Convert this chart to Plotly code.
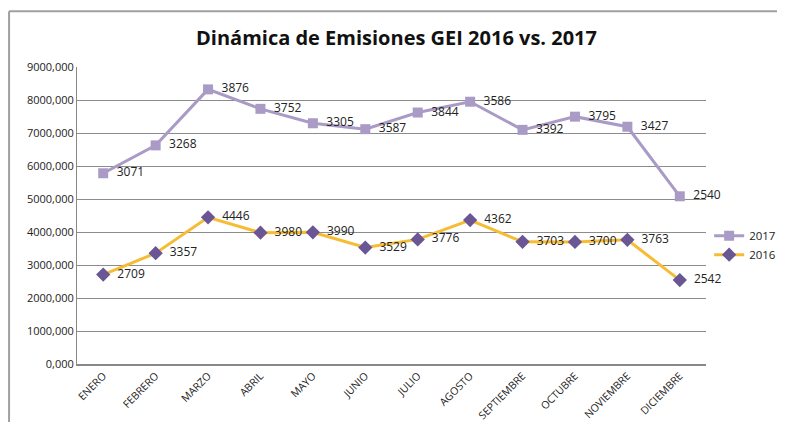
import plotly.graph_objects as go

meses = ["ENERO", "FEBRERO", "MARZO", "ABRIL", "MAYO", "JUNIO", "JULIO",
         "AGOSTO", "SEPTIEMBRE", "OCTUBRE", "NOVIEMBRE", "DICIEMBRE"]
e2016 = [2709, 3357, 4446, 3980, 3990, 3529, 3776, 4362, 3703, 3700, 3763, 2542]
e2017 = [3071, 3268, 3876, 3752, 3305, 3587, 3844, 3586, 3392, 3795, 3427, 2540]
y_ticks = [0, 1000, 2000, 3000, 4000, 5000, 6000, 7000, 8000, 9000]
y_tick_labels = ["0,000", "1000,000", "2000,000", "3000,000", "4000,000",
                 "5000,000", "6000,000", "7000,000", "8000,000", "9000,000"]

# stacked line chart: 2017 sits on top of 2016
stack2017 = [a + b for a, b in zip(e2016, e2017)]

fig = go.Figure()
fig.add_trace(go.Scatter(
    x=meses, y=stack2017, name="2017", mode="lines+markers+text",
    text=["  " + str(v) for v in e2017], textposition="middle right",
    textfont=dict(size=12, color="#222222"),
    line=dict(color="#A99BC6", width=3),
    marker=dict(symbol="square", size=10, color="#A99BC6"),
    cliponaxis=False,
))
fig.add_trace(go.Scatter(
    x=meses, y=e2016, name="2016", mode="lines+markers+text",
    text=["  " + str(v) for v in e2016], textposition="middle right",
    textfont=dict(size=12, color="#222222"),
    line=dict(color="#F6BC33", width=3),
    marker=dict(symbol="diamond", size=11, color="#6A5695"),
    cliponaxis=False,
))

fig.update_layout(
    width=777, height=414,
    margin=dict(l=69, r=79, t=59, b=58, autoexpand=False),
    paper_bgcolor="white", plot_bgcolor="white",
    font=dict(family="Open Sans, Liberation Sans, sans-serif", size=11, color="#222222"),
    title=dict(text="<b>Dinámica de Emisiones GEI 2016 vs. 2017</b>",
               x=0.5, xanchor="center", y=0.928, yanchor="middle",
               font=dict(size=20, color="#111111")),
    showlegend=True,
    legend=dict(x=1.005, y=0.40, xanchor="left", yanchor="middle",
                itemwidth=30, font=dict(size=11.5), tracegroupgap=4,
                bgcolor="rgba(0,0,0,0)"),
    xaxis=dict(type="category", range=[-0.5, 11.5], tickangle=-45,
               showgrid=False, showline=True, linecolor="#888888", linewidth=1.5,
               ticks="", tickfont=dict(size=10.5), automargin=False),
    yaxis=dict(range=[0, 9000], tickvals=y_ticks, ticktext=y_tick_labels,
               showgrid=True, gridcolor="#8C8C8C", gridwidth=1,
               showline=True, linecolor="#888888", linewidth=1, zeroline=False,
               ticks="", tickfont=dict(size=11), automargin=False),
    shapes=[
        dict(type="line", xref="paper", yref="paper", x0=-0.108, x1=1.125,
             y0=1.188, y1=1.188, line=dict(color="#A0A0A0", width=2)),
        dict(type="line", xref="paper", yref="paper", x0=-0.108, x1=-0.108,
             y0=1.188, y1=-0.195, line=dict(color="#A0A0A0", width=2)),
    ],
)

fig.write_html("out.html")
